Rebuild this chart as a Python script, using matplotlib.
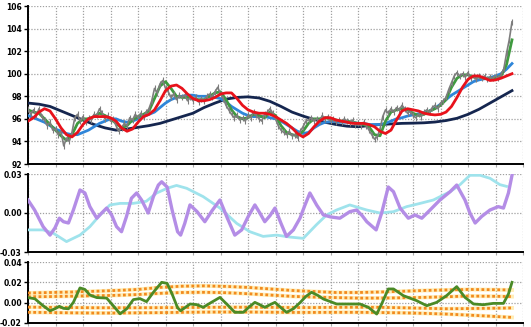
import matplotlib
matplotlib.use("Agg")
import matplotlib.pyplot as plt

# ---------------- data ----------------
price_days = list(range(0, 177))
price_close = [
    96.9, 96.4, 96.8, 96.3, 96.9, 96.2, 95.9, 95.4, 95.7, 95.0,
    95.1, 94.6, 94.9, 93.6, 94.3, 94.0, 94.8, 96.1, 96.4, 95.8,
    96.2, 95.7, 96.1, 95.9, 96.4, 96.3, 96.9, 96.5, 96.0, 96.3,
    95.8, 96.0, 95.4, 94.9, 95.2, 95.6, 95.4, 96.1, 95.9, 96.4,
    96.1, 96.5, 96.2, 96.6, 96.9, 97.6, 98.7, 98.3, 99.1, 99.4,
    98.7, 98.4, 97.9, 98.2, 97.7, 98.1, 97.9, 98.1, 97.6, 97.9,
    97.6, 97.9, 97.5, 97.8, 97.6, 98.0, 98.2, 97.9, 98.4, 98.8,
    98.2, 97.8, 97.2, 96.8, 96.4, 96.1, 96.3, 95.9, 96.1, 95.8,
    96.3, 96.1, 96.6, 96.3, 96.0, 95.8, 96.4, 96.6, 96.9, 96.5,
    96.0, 95.4, 95.0, 94.8, 94.6, 94.9, 94.5, 94.6, 94.3, 94.9,
    95.3, 95.8, 95.9, 96.1, 95.8, 96.0, 95.8, 96.3, 96.0, 96.2,
    95.8, 96.0, 95.7, 95.9, 95.7, 96.0, 95.8, 95.6, 95.9, 95.5,
    95.6, 95.4, 95.7, 95.4, 95.0, 94.6, 94.2, 94.4, 95.1, 96.2,
    96.8, 96.5, 96.9, 96.6, 97.0, 96.8, 97.2, 96.9, 96.5, 96.7,
    96.3, 96.1, 96.4, 96.2, 96.6, 96.8, 96.6, 97.0, 97.2, 96.9,
    97.4, 97.6, 97.9, 98.6, 99.2, 99.8, 100.1, 99.8, 100.0, 99.7,
    100.1, 99.6, 99.8, 99.5, 99.8, 99.6, 99.8, 99.5, 99.7, 99.6,
    99.8, 99.6, 99.9, 100.4, 101.8, 103.0, 104.6]

ma_days = list(range(0, 177, 2))
ma_short = [
    96.8, 96.6, 96.5, 96.0, 95.5, 95.0, 94.5, 94.1, 94.6, 95.6,
    96.0, 96.0, 96.2, 96.5, 96.3, 96.0, 95.6, 95.2, 95.4, 95.9,
    96.2, 96.4, 96.7, 97.8, 98.9, 99.3, 98.7, 98.0, 97.9, 97.9,
    97.8, 97.7, 97.7, 98.0, 98.3, 98.4, 97.7, 96.8, 96.2, 96.0,
    96.1, 96.4, 96.3, 96.1, 96.6, 96.3, 95.4, 94.8, 94.6, 94.5,
    94.9, 95.6, 96.0, 96.0, 96.1, 96.0, 95.9, 95.8, 95.8, 95.7,
    95.6, 95.5, 95.3, 94.6, 94.5, 95.8, 96.6, 96.8, 96.9, 96.8,
    96.5, 96.3, 96.4, 96.7, 96.9, 97.2, 97.7, 98.8, 99.6, 99.9,
    99.9, 99.7, 99.7, 99.6, 99.6, 99.6, 99.8, 100.8, 103.0]
ma_mid = [
    95.8, 96.1, 96.6, 96.9, 96.7, 96.0, 95.2, 94.6, 94.4, 94.8,
    95.5, 96.0, 96.2, 96.2, 96.2, 96.1, 95.8, 95.2, 94.9, 95.1,
    95.7, 96.2, 96.4, 96.8, 97.6, 98.5, 98.9, 99.0, 98.7, 98.2,
    97.8, 97.6, 97.6, 97.7, 97.9, 98.2, 98.3, 98.3, 97.8, 97.2,
    96.8, 96.6, 96.5, 96.5, 96.4, 96.2, 95.9, 95.6, 95.2, 94.7,
    94.4, 94.7, 95.3, 95.8, 96.1, 96.1, 95.9, 95.8, 95.7, 95.6,
    95.6, 95.6, 95.5, 95.3, 94.9, 94.7, 95.0, 95.9, 96.7, 96.9,
    96.8, 96.7, 96.5, 96.4, 96.35, 96.4, 96.6, 97.1, 97.9, 98.8,
    99.5, 99.8, 99.8, 99.6, 99.4, 99.45, 99.6, 99.8, 100.0]
ma_long = [
    96.3, 96.1, 95.9, 95.7, 95.4, 95.1, 94.9, 94.7, 94.6, 94.6,
    94.8, 95.0, 95.3, 95.6, 95.8, 96.0, 96.0, 95.8, 95.7, 95.8,
    96.0, 96.2, 96.4, 96.6, 97.0, 97.4, 97.7, 97.9, 98.0, 98.1,
    98.1, 98.0, 98.0, 98.0, 97.9, 97.8, 97.5, 97.1, 96.8, 96.5,
    96.3, 96.2, 96.2, 96.2, 96.1, 96.0, 95.8, 95.5, 95.2, 94.9,
    94.7, 94.8, 95.2, 95.5, 95.7, 95.75, 95.75, 95.7, 95.7, 95.7,
    95.6, 95.6, 95.5, 95.5, 95.5, 95.6, 95.8, 96.0, 96.1, 96.25,
    96.35, 96.45, 96.55, 96.7, 96.95, 97.3, 97.7, 98.1, 98.4, 98.7,
    99.0, 99.3, 99.45, 99.55, 99.65, 99.8, 100.0, 100.4, 100.9]

trend_days = list(range(0, 177, 4))
ma_trend = [
    97.4, 97.3, 97.1, 96.7, 96.3, 95.9, 95.5, 95.2, 95.0, 95.1,
    95.25, 95.4, 95.6, 95.9, 96.2, 96.5, 97.0, 97.4, 97.75, 97.9,
    97.95, 97.85, 97.55, 97.1, 96.6, 96.25, 95.95, 95.7, 95.5, 95.35,
    95.3, 95.4, 95.5, 95.55, 95.6, 95.62, 95.65, 95.72, 95.85, 96.05,
    96.4, 96.85, 97.4, 97.95, 98.5]

osc1_days = [0, 2.4, 5.5, 8, 9.8, 11.4, 12.9, 14.7, 16.5, 18.9, 20.7, 22.5, 25, 26.8,
             28.6, 30.4, 32.2, 34, 35.8, 37.6, 39.5, 41.3, 43.7, 45.6, 47.4, 48.6,
             50.6, 52.4, 54.4, 55.5, 57, 58.9, 61.5, 64.3, 67, 69.8, 72.5, 75.2,
             77.7, 80, 82.5, 84.3, 86.1, 88, 89.8, 92, 94, 96.5, 98.9, 100.7, 102.5,
             105, 107.4, 110, 113.4, 117, 119.5, 121.5, 123.2, 126.6, 128.6, 131,
             132.9, 135.3, 138.3, 140.7, 143.2, 146.2, 149.8, 153.5, 155.9, 158.9,
             160.7, 162.6, 165, 168, 171, 172.9, 174.7, 176]
osc1_vals = [0.010, 0.0023, -0.0105, -0.017, -0.0115, -0.004, -0.0067, -0.0077, 0.0023,
             0.0177, 0.0154, 0.0049, -0.004, 0.0, 0.0038, -0.0015, -0.0105, -0.0144,
             -0.0028, 0.0113, 0.0154, 0.010, 0.0, 0.0126, 0.0215, 0.024, 0.020, 0.0023,
             -0.0144, -0.017, -0.008, 0.0062, 0.001, -0.0067, 0.002, 0.010, -0.004,
             -0.017, -0.013, -0.003, 0.0062, 0.0, -0.0067, -0.002, 0.0038, -0.008,
             -0.018, -0.013, -0.004, 0.006, 0.0154, 0.006, -0.0015, -0.003, -0.004,
             0.001, 0.0023, -0.002, -0.0067, -0.013, 0.0, 0.020, 0.0164, 0.0038,
             -0.004, -0.0015, -0.004, 0.0023, 0.010, 0.0164, 0.0215, 0.010, 0.0,
             -0.0077, -0.0026, 0.0023, 0.0049, 0.0038, 0.0154, 0.029]

osc2_days = [0, 5.5, 9.1, 14, 18.9, 22.5, 26.2, 29.8, 33.5, 38.2, 43, 46.8, 50.6, 54,
             57.7, 63.7, 69.8, 75.9, 80.7, 85.5, 90.4, 95.2, 100.1, 104.9, 108.6,
             112.2, 117, 123.2, 128, 132.9, 137.7, 142.6, 147.4, 153.5, 157.1, 160.7,
             164.4, 168, 171.6, 174]
osc2_vals = [-0.013, -0.013, -0.0154, -0.022, -0.017, -0.0105, -0.0015, 0.0062, 0.0074,
             0.0074, 0.009, 0.0154, 0.019, 0.0212, 0.019, 0.0126, 0.0038, -0.008,
             -0.0144, -0.018, -0.017, -0.0185, -0.0195, -0.009, -0.0015, 0.0023,
             0.0062, 0.0023, 0.0, 0.001, 0.0049, 0.0074, 0.010, 0.0164, 0.0218, 0.029,
             0.029, 0.0267, 0.0218, 0.0205]

osc3_days = [0, 2.5, 5.5, 8, 9.8, 11.4, 12.9, 14.7, 16.5, 18.9, 20.7, 22.5, 25, 28.6,
             31, 33.5, 35.9, 38.3, 40.7, 43.1, 45.6, 48.6, 50.6, 52.4, 54.4, 55.5,
             58.9, 61.5, 63.7, 66.5, 69.8, 72.5, 75.2, 78.3, 80.5, 82.5, 84.3, 86.1,
             88, 89.8, 92, 94, 96.5, 98.9, 101, 103.1, 105.5, 107.4, 110, 112.2, 117,
             120.7, 123.8, 126.8, 128.6, 131, 132.9, 136.5, 141.3, 145, 148.6, 152.2,
             155.9, 158.9, 162, 165.6, 169.2, 172.9, 174.7, 176]
osc3_vals = [0.005, 0.0038, -0.003, -0.008, -0.006, -0.0036, -0.0056, -0.006, 0.0003,
             0.0145, 0.013, 0.0075, 0.005, 0.0045, -0.003, -0.011, -0.006, 0.003,
             0.004, 0.001, 0.0102, 0.020, 0.019, 0.0085, -0.005, -0.008, -0.0013,
             -0.002, -0.0046, 0.0, 0.0052, -0.002, -0.0095, -0.0095, -0.004, 0.0003,
             -0.002, -0.0046, -0.002, 0.0003, -0.005, -0.0095, -0.006, 0.0, 0.006,
             0.0102, 0.007, 0.0036, 0.001, -0.0013, -0.0013, -0.0013, -0.0046,
             -0.0112, -0.0013, 0.0135, 0.0135, 0.0069, 0.002, -0.003, 0.0003, 0.0069,
             0.0158, 0.0052, -0.0013, -0.002, -0.0007, -0.0007, 0.0085, 0.020]

band_days = [0, 8, 16, 24, 32, 40, 48, 56, 64, 72, 80, 88, 96, 104, 112, 120, 128, 136,
             144, 152, 160, 168, 176]
band_up2 = [0.0095, 0.0100, 0.0105, 0.0112, 0.0120, 0.0130, 0.0150, 0.0162, 0.0165,
            0.0160, 0.0150, 0.0135, 0.0120, 0.0110, 0.0100, 0.0100, 0.0105, 0.0112,
            0.0120, 0.0125, 0.0130, 0.0128, 0.0125]
band_up1 = [0.0058, 0.0060, 0.0064, 0.0068, 0.0072, 0.0080, 0.0092, 0.0100, 0.0102,
            0.0098, 0.0088, 0.0075, 0.0062, 0.0055, 0.0050, 0.0045, 0.0045, 0.0048,
            0.0052, 0.0058, 0.0065, 0.0063, 0.0060]
band_lo1 = [-0.0044, -0.0046, -0.0048, -0.0050, -0.0050, -0.0050, -0.0049, -0.0048,
            -0.0046, -0.0045, -0.0045, -0.0046, -0.0048, -0.0048, -0.0046, -0.0045,
            -0.0046, -0.0050, -0.0055, -0.0060, -0.0058, -0.0055, -0.0052]
band_lo2 = [-0.0095, -0.0097, -0.0100, -0.0102, -0.0102, -0.0100, -0.0098, -0.0095,
            -0.0093, -0.0092, -0.0092, -0.0094, -0.0096, -0.0096, -0.0095, -0.0095,
            -0.0097, -0.0100, -0.0105, -0.0112, -0.0122, -0.0133, -0.0145]

top_ticks = [92, 94, 96, 98, 100, 102, 104, 106]
top_labels = ["92", "94", "96", "98", "100", "102", "104", "106"]
mid_ticks = [-0.03, 0.0, 0.03]
mid_labels = ["-0.03", "0.00", "0.03"]
bot_ticks = [-0.02, 0.0, 0.02, 0.04]
bot_labels = ["-0.02", "0.00", "0.02", "0.04"]
x_grid = list(range(0, 181, 10))

# ---------------- figure ----------------
W, H = 531, 327
fig = plt.figure(figsize=(W / 100, H / 100), dpi=100)
fig.patch.set_facecolor("white")

def px_axes(x0, y0, x1, y1):
    return fig.add_axes([x0 / W, 1 - y1 / H, (x1 - x0) / W, (y1 - y0) / H])

ax1 = px_axes(28, 6, 523, 164)
ax2 = px_axes(28, 174, 523, 252)
ax3 = px_axes(28, 262, 523, 323)

tick_font = dict(family=["Liberation Sans Narrow", "DejaVu Sans"], weight="bold", size=5.5)

def style(ax, ticks, labels, ylim):
    ax.set_xlim(0, 180)
    ax.set_ylim(*ylim)
    ax.set_xticks(x_grid)
    ax.set_xticklabels([])
    ax.set_yticks(ticks)
    ax.set_yticklabels(labels, **tick_font)
    ax.grid(True, linestyle=(0, (1, 1.3)), color="#a0a0a0", linewidth=0.9)
    ax.set_axisbelow(True)
    for s in ("top", "right"):
        ax.spines[s].set_visible(False)
    for s in ("left", "bottom"):
        ax.spines[s].set_linewidth(1.4)
        ax.spines[s].set_color("black")
    ax.tick_params(axis="y", length=3, width=1, pad=1.5, colors="black")
    ax.tick_params(axis="x", length=2, width=0.8, color="#a8a8a8")

style(ax1, top_ticks, top_labels, (92, 106))
style(ax2, mid_ticks, mid_labels, (-0.03, 0.03))
style(ax3, bot_ticks, bot_labels, (-0.02, 0.04))

# top panel
ax1.plot(trend_days, ma_trend, color="#15264f", lw=2.0, zorder=3)
ax1.plot(ma_days, ma_long, color="#2f86d9", lw=2.0, zorder=4)
ax1.plot(ma_days, ma_short, color="#3f9a3f", lw=2.0, zorder=5)
ax1.plot(price_days, price_close, color="#7d7d7d", lw=1.2, zorder=6,
         marker="|", markersize=4, markeredgewidth=0.8)
ax1.plot(ma_days, ma_mid, color="#e8121b", lw=2.0, zorder=7)

# middle panel
ax2.plot(osc2_days, osc2_vals, color="#9fe3ec", lw=2.0, zorder=3)
ax2.plot(osc1_days, osc1_vals, color="#b48de6", lw=2.4, zorder=4)

# bottom panel
for band in (band_up2, band_up1, band_lo1, band_lo2):
    ax3.plot(band_days, band, color="#ffdf7a", lw=2.8, alpha=0.55, zorder=2)
    ax3.plot(band_days, band, color="#f28a1e", lw=2.0, linestyle=(0, (1, 0.9)), zorder=3)
ax3.plot(osc3_days, osc3_vals, color="#4a8a26", lw=2.0, zorder=4)

fig.savefig("out.png", dpi=100, facecolor="white")
